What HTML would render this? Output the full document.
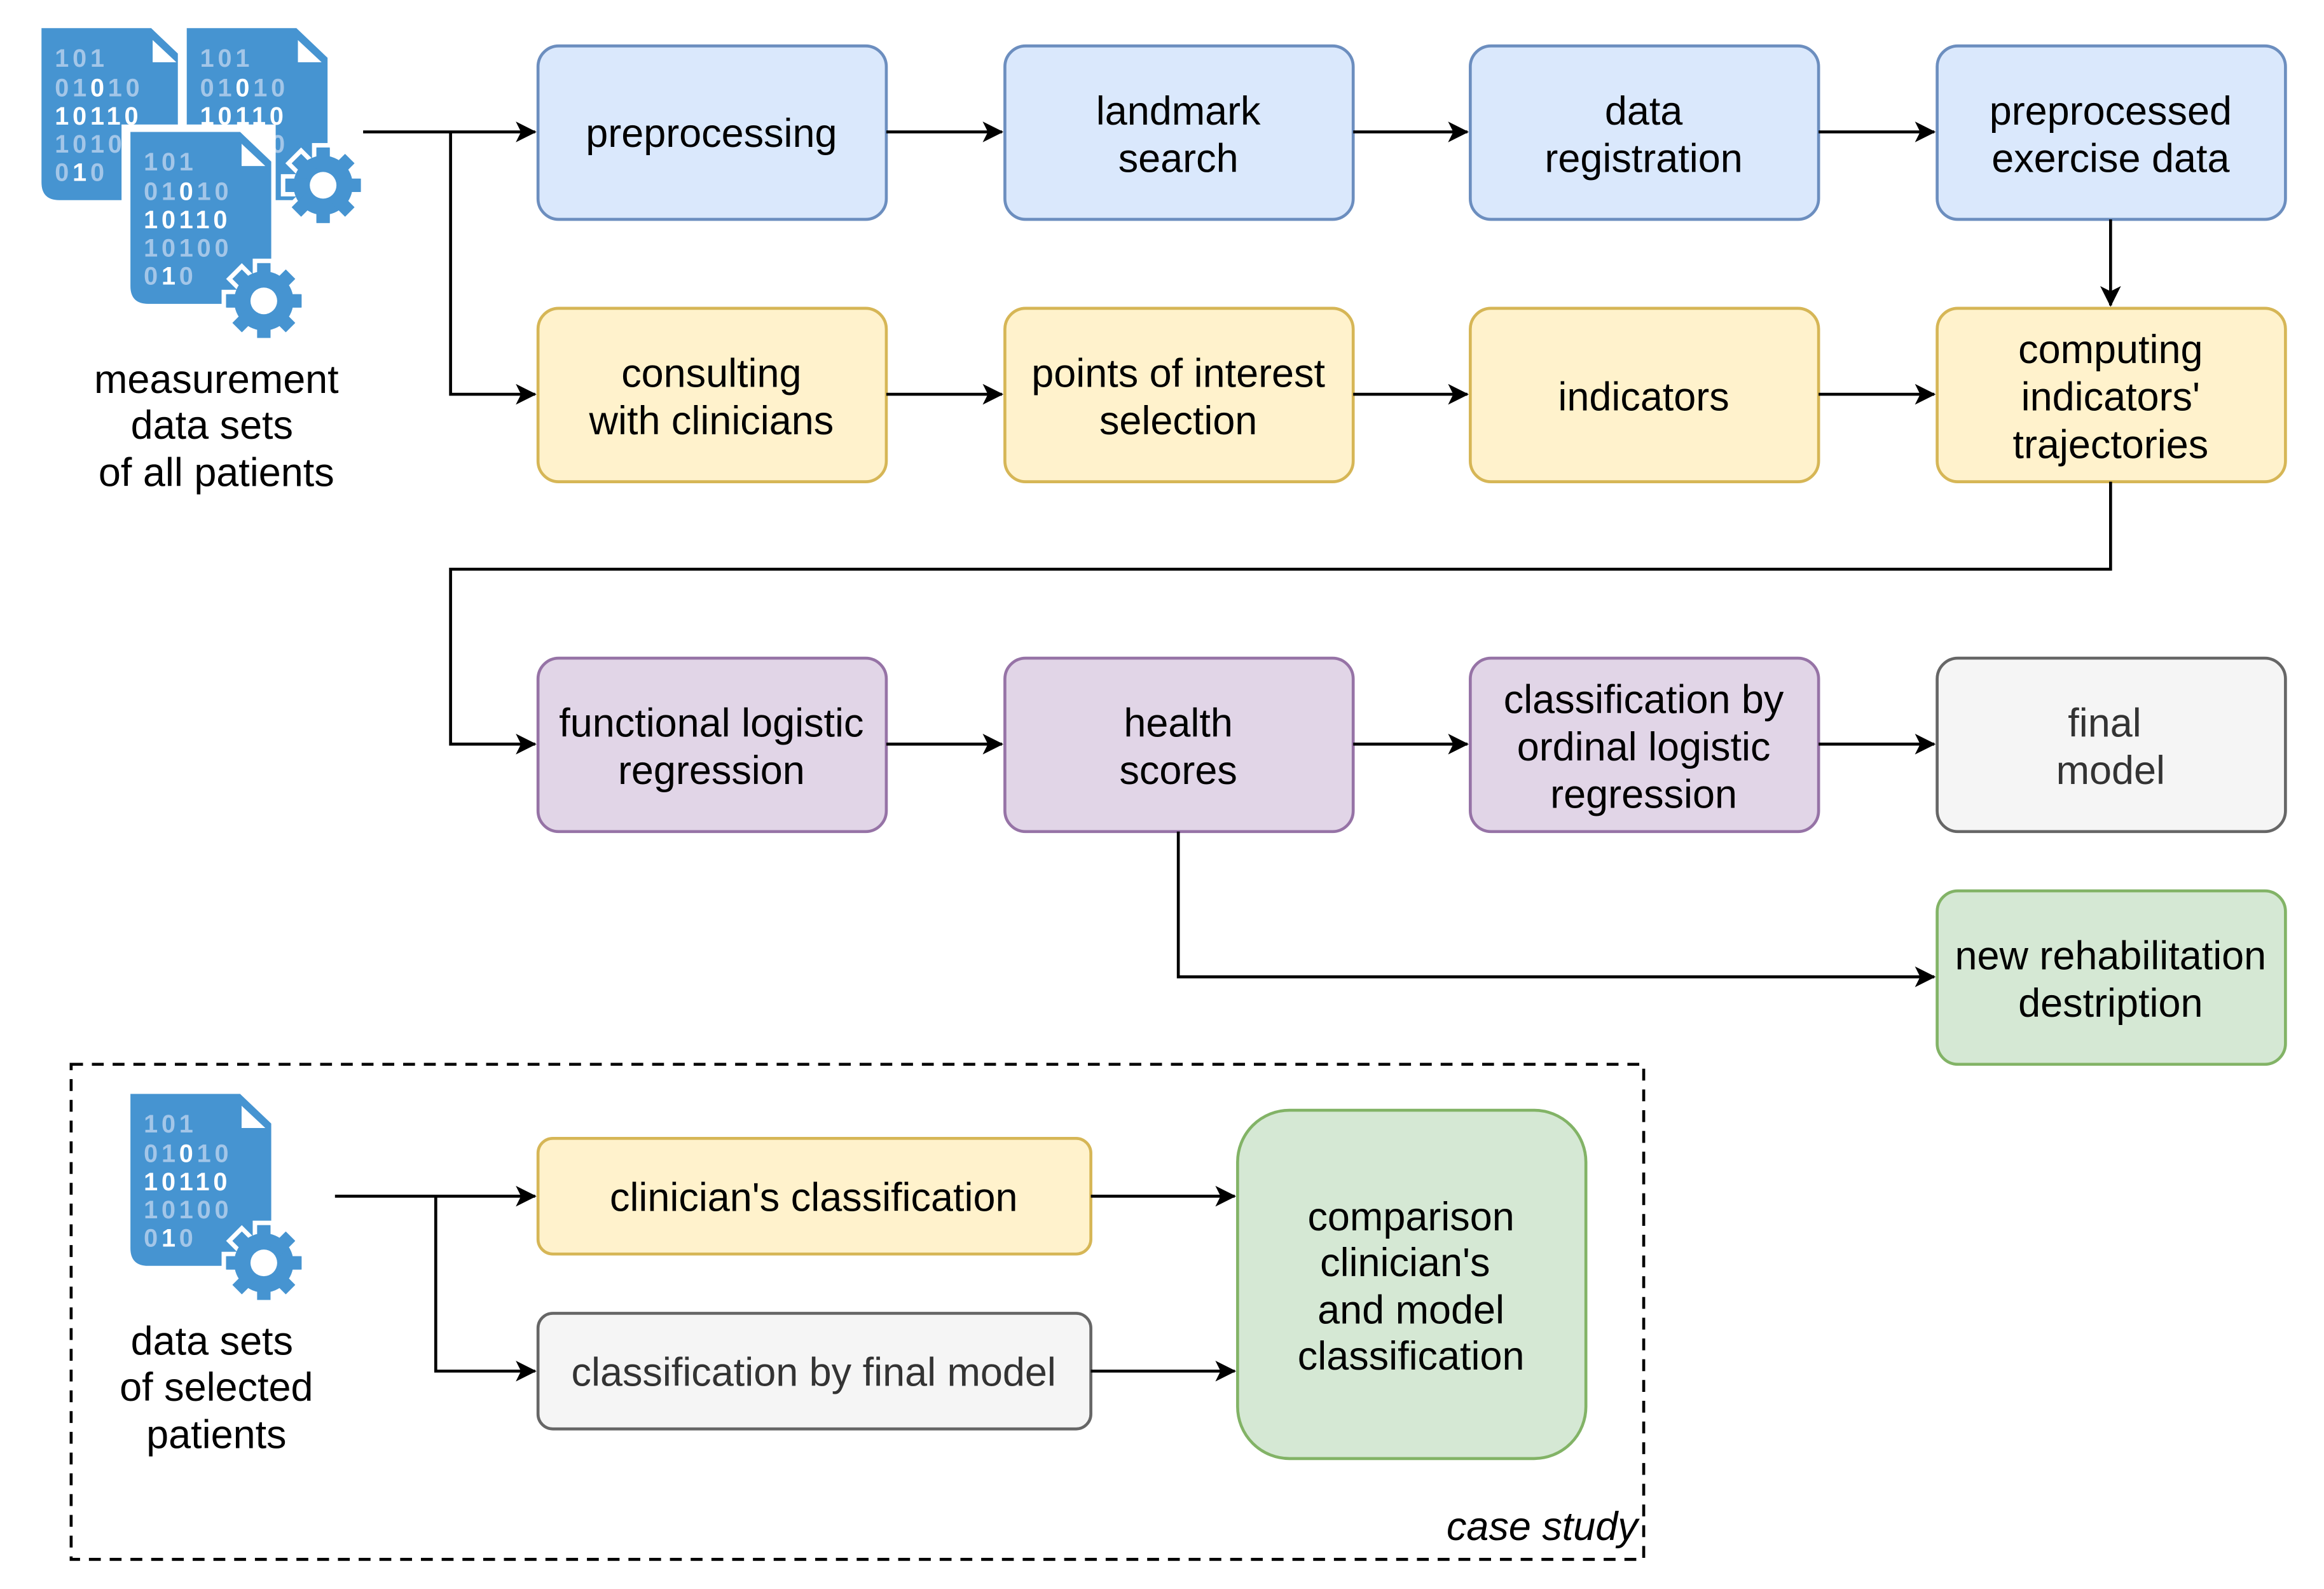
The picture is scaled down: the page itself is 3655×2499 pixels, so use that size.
<!DOCTYPE html>
<html><head><meta charset="utf-8"><style>
html,body{margin:0;padding:0;background:#fff;}
svg{display:block;}
text{font-family:"Liberation Sans",Arial,sans-serif;font-size:27px;fill:#000;}
.b{font-family:"Liberation Sans",Arial,sans-serif;font-weight:bold;font-size:17px;letter-spacing:2.5px;}
.l{fill:#a3c6e8;}.w{fill:#fff;}
</style></head><body>
<svg width="3655" height="2499" viewBox="0 0 1568 1072" preserveAspectRatio="none" xmlns="http://www.w3.org/2000/svg">
<defs>
<marker id="a" markerWidth="14" markerHeight="14" refX="13" refY="7" orient="auto" markerUnits="userSpaceOnUse">
<path d="M0,0 L14,7 L0,14 L3.5,7 z" fill="#000"/></marker>
<g id="gear">
<g fill="#4694d1" stroke="#fff" stroke-width="3">
<rect x="-6" y="-27" width="12" height="54"/>
<rect x="-6" y="-27" width="12" height="54" transform="rotate(45)"/>
<rect x="-6" y="-27" width="12" height="54" transform="rotate(90)"/>
<rect x="-6" y="-27" width="12" height="54" transform="rotate(135)"/>
</g>
<circle r="20" fill="#4694d1"/>
<rect x="-4.5" y="-25" width="9" height="50" fill="#4694d1"/>
<rect x="-4.5" y="-25" width="9" height="50" fill="#4694d1" transform="rotate(45)"/>
<rect x="-4.5" y="-25" width="9" height="50" fill="#4694d1" transform="rotate(90)"/>
<rect x="-4.5" y="-25" width="9" height="50" fill="#4694d1" transform="rotate(135)"/>
<circle r="9" fill="#fff"/>
</g>
<g id="doc">
<path d="M0,0 H74 L95,20 V116 H12 Q0,116 0,104 Z" fill="#4694d1"/>
<path d="M75,8 L91,23 H75 Z" fill="#fff"/>
<text class="b l" x="9" y="26">101</text>
<text class="b" x="9" y="46"><tspan class="l">01</tspan><tspan class="w">0</tspan><tspan class="l">10</tspan></text>
<text class="b w" x="9" y="65">10110</text>
<text class="b l" x="9" y="84">10100</text>
<text class="b" x="9" y="103"><tspan class="l">0</tspan><tspan class="w">1</tspan><tspan class="l">0</tspan></text>
</g>
</defs>

<use href="#doc" x="28" y="19"/>
<rect x="120" y="19" width="6" height="100" fill="#fff"/>
<use href="#doc" x="126" y="19"/>
<rect x="82" y="84" width="104" height="125" fill="#fff"/>
<use href="#doc" x="88" y="89"/>
<use href="#gear" x="218" y="125"/>
<use href="#gear" x="178" y="203"/>
<rect x="150" y="228" width="60" height="10" fill="#fff"/>
<text x="146" y="265" text-anchor="middle">measurement</text>
<text x="143" y="296" text-anchor="middle">data sets</text>
<text x="146" y="328" text-anchor="middle">of all patients</text>

<use href="#doc" x="88" y="738"/>
<use href="#gear" x="178" y="852"/>
<rect x="150" y="877" width="60" height="10" fill="#fff"/>
<text x="143" y="914" text-anchor="middle">data sets</text>
<text x="146" y="945" text-anchor="middle">of selected</text>
<text x="146" y="977" text-anchor="middle">patients</text>

<g stroke-width="2">
<rect x="363" y="31" width="235" height="117" rx="14" fill="#dae8fc" stroke="#6c8ebf"/>
<rect x="678" y="31" width="235" height="117" rx="14" fill="#dae8fc" stroke="#6c8ebf"/>
<rect x="992" y="31" width="235" height="117" rx="14" fill="#dae8fc" stroke="#6c8ebf"/>
<rect x="1307" y="31" width="235" height="117" rx="14" fill="#dae8fc" stroke="#6c8ebf"/>
<rect x="363" y="208" width="235" height="117" rx="14" fill="#fff2cc" stroke="#d6b656"/>
<rect x="678" y="208" width="235" height="117" rx="14" fill="#fff2cc" stroke="#d6b656"/>
<rect x="992" y="208" width="235" height="117" rx="14" fill="#fff2cc" stroke="#d6b656"/>
<rect x="1307" y="208" width="235" height="117" rx="14" fill="#fff2cc" stroke="#d6b656"/>
<rect x="363" y="444" width="235" height="117" rx="14" fill="#e1d5e7" stroke="#9673a6"/>
<rect x="678" y="444" width="235" height="117" rx="14" fill="#e1d5e7" stroke="#9673a6"/>
<rect x="992" y="444" width="235" height="117" rx="14" fill="#e1d5e7" stroke="#9673a6"/>
<rect x="1307" y="444" width="235" height="117" rx="14" fill="#f5f5f5" stroke="#666666"/>
<rect x="1307" y="601" width="235" height="117" rx="14" fill="#d5e8d4" stroke="#82b366"/>
<rect x="363" y="768" width="373" height="78" rx="10" fill="#fff2cc" stroke="#d6b656"/>
<rect x="363" y="886" width="373" height="78" rx="10" fill="#f5f5f5" stroke="#666666"/>
<rect x="835" y="749" width="235" height="235" rx="35" fill="#d5e8d4" stroke="#82b366"/>
</g>
<rect x="48" y="718" width="1061" height="334" fill="none" stroke="#000" stroke-width="2" stroke-dasharray="8,6"/>

<g fill="none" stroke="#000" stroke-width="2" marker-end="url(#a)">
<path d="M245,89 H361"/>
<path d="M304,89 V266 H361"/>
<path d="M598,89 H676"/><path d="M913,89 H990"/><path d="M1227,89 H1305"/>
<path d="M1424,148 V206"/>
<path d="M598,266 H676"/><path d="M913,266 H990"/><path d="M1227,266 H1305"/>
<path d="M1424,325 V384 H304 V502 H361"/>
<path d="M598,502 H676"/><path d="M913,502 H990"/><path d="M1227,502 H1305"/>
<path d="M795,561 V659 H1305"/>
<path d="M226,807 H361"/>
<path d="M294,807 V925 H361"/>
<path d="M736,807 H833"/><path d="M736,925 H833"/>
</g>

<g text-anchor="middle">
<text x="480" y="99">preprocessing</text>
<text x="795" y="84">landmark</text><text x="795" y="116">search</text>
<text x="1109" y="84">data</text><text x="1109" y="116">registration</text>
<text x="1424" y="84">preprocessed</text><text x="1424" y="116">exercise data</text>
<text x="480" y="261">consulting</text><text x="480" y="293">with clinicians</text>
<text x="795" y="261">points of interest</text><text x="795" y="293">selection</text>
<text x="1109" y="277">indicators</text>
<text x="1424" y="245">computing</text><text x="1424" y="277">indicators'</text><text x="1424" y="309">trajectories</text>
<text x="480" y="497">functional logistic</text><text x="480" y="529">regression</text>
<text x="795" y="497">health</text><text x="795" y="529">scores</text>
<text x="1109" y="481">classification by</text><text x="1109" y="513">ordinal logistic</text><text x="1109" y="545">regression</text>
<text x="1420" y="497" style="fill:#333">final</text><text x="1424" y="529" style="fill:#333">model</text>
<text x="1424" y="654">new rehabilitation</text><text x="1424" y="686">destription</text>
<text x="549" y="817">clinician's classification</text>
<text x="549" y="935" style="fill:#333">classification by final model</text>
<text x="952" y="830">comparison</text><text x="948" y="861">clinician's</text><text x="952" y="893">and model</text><text x="952" y="924">classification</text>
<text x="1105" y="1039" text-anchor="end" font-style="italic">case study</text>
</g>
</svg>
</body></html>
